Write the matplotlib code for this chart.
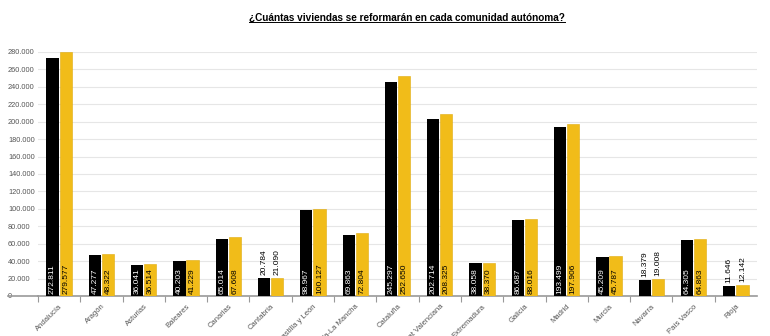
import matplotlib
matplotlib.use("Agg")
import matplotlib.pyplot as plt
import numpy as np
from matplotlib.lines import Line2D

# data
comunidades = ["Andalucía", "Aragón", "Asturias", "Baleares", "Canarias", "Cantabria",
               "Castilla y León", "Castilla-La Mancha", "Cataluña", "Comunitat Valenciana",
               "Extremadura", "Galicia", "Madrid", "Murcia", "Navarra", "País Vasco", "Rioja"]
serie_a = [272811, 47277, 36041, 40203, 65014, 20784, 98967, 69863, 245297, 202714,
           38058, 86687, 193499, 45209, 18379, 64305, 11646]
serie_b = [279577, 48322, 36514, 41229, 67608, 21090, 100127, 72804, 252650, 208325,
           38370, 88016, 197906, 45787, 19008, 64863, 12142]
yticks = list(range(0, 280001, 20000))

NEGRO = "#000000"
AMARILLO = "#f1bc19"
GRIS = "#555555"

plt.rcParams['font.family'] = ['Liberation Sans', 'DejaVu Sans']


def fmt(v):
    return "{:,}".format(v).replace(",", ".")


fig = plt.figure(figsize=(7.7, 3.36), dpi=100)
W, H = 770, 336
ax = fig.add_axes([38 / W, 1 - 296 / H, (757 - 38) / W, (296 - 52) / H])

x = np.arange(len(comunidades))
bw = 0.29
ax.bar(x - bw / 2 - 0.01, serie_a, bw, color=NEGRO, zorder=3)
ax.bar(x + bw / 2 + 0.01, serie_b, bw, color=AMARILLO, edgecolor="#e0ac10", linewidth=0.4, zorder=3)

# value labels: inside bars at the bottom, or above short bars
for i in range(len(comunidades)):
    for dx, v, col in [(-bw / 2 - 0.01, serie_a[i], "white"), (bw / 2 + 0.01, serie_b[i], "black")]:
        if v > 30000:
            ax.text(x[i] + dx, 2500, fmt(v), rotation=90, ha="center", va="bottom",
                    fontsize=6, color=col, zorder=4)
        else:
            ax.text(x[i] + dx, v + 3500, fmt(v), rotation=90, ha="center", va="bottom",
                    fontsize=6, color="black", zorder=4)

ax.set_xlim(-0.5, len(comunidades) - 0.5)
ax.set_ylim(0, 280000)
ax.set_yticks(yticks)
ax.set_yticklabels([fmt(t) for t in yticks], fontsize=5.3, color=GRIS)
for lab in ax.get_yticklabels():
    lab.set_horizontalalignment("left")
ax.tick_params(axis="y", length=0, pad=21.6)
ax.grid(axis="y", color="#e6e6e6", linewidth=0.8, zorder=0)

ax.set_xticks(x)
ax.set_xticklabels(comunidades, rotation=45, ha="right", rotation_mode="anchor",
                   fontsize=5.5, color=GRIS)
ax.set_xticks(np.arange(len(comunidades)) - 0.5, minor=True)
ax.tick_params(axis="x", which="major", length=0, pad=5)
ax.tick_params(axis="x", which="minor", length=4, color="#999999", width=0.8)

for s in ["top", "right", "left"]:
    ax.spines[s].set_visible(False)
ax.spines["bottom"].set_color("#999999")
ax.spines["bottom"].set_linewidth(1.2)
fig.add_artist(Line2D([8 / W, 38 / W], [1 - 296 / H] * 2, color="#999999", linewidth=1.2))

title = fig.text(407 / W, 1 - 18 / H, "¿Cuántas viviendas se reformarán en cada comunidad autónoma?",
                 ha="center", va="center", fontsize=7.2, fontweight="bold", color="black")
fig.canvas.draw()
bb = title.get_window_extent().transformed(fig.transFigure.inverted())
fig.add_artist(Line2D([bb.x0, bb.x1], [bb.y0 + 0.002, bb.y0 + 0.002], color="black", linewidth=0.7))

plt.savefig("out.png", dpi=100)
plt.close()
